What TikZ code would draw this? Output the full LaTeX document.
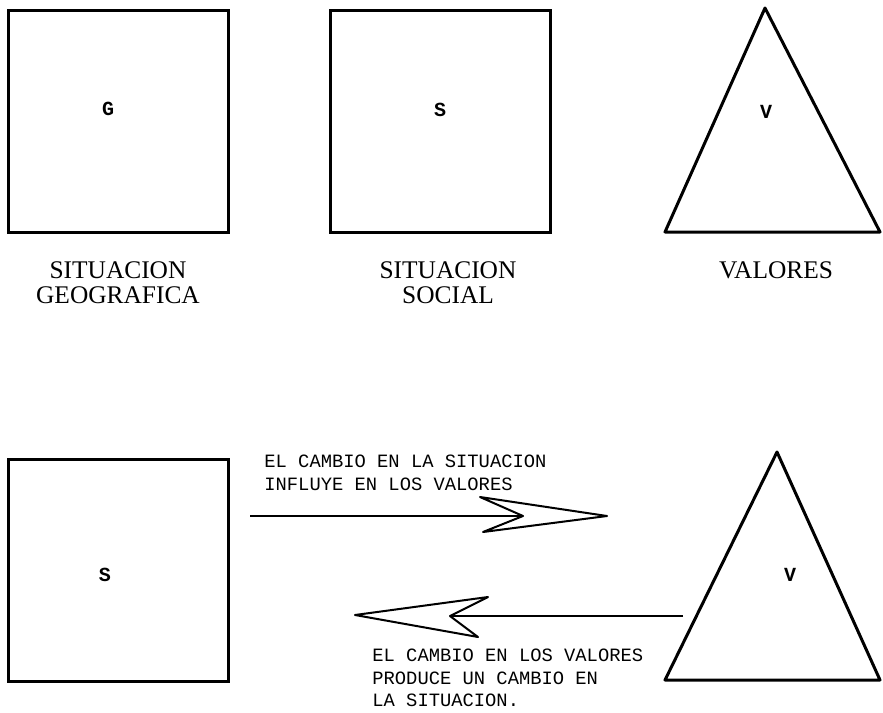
\documentclass[tikz,border=0pt]{standalone}
\usepackage{fontspec}
\setmainfont{Liberation Serif}
\setmonofont{Liberation Mono}
\tikzset{
  box/.style={draw,line width=1.5pt,minimum width=110pt,minimum height=111pt,inner sep=0pt},
  tri/.style={line width=1.5pt,line join=round},
  lbl/.style={font=\fontsize{12.7}{12.5}\selectfont,align=center,anchor=north,inner sep=0pt},
  note/.style={font=\ttfamily\fontsize{9.4}{11.2}\selectfont,align=left,anchor=north west,inner sep=0pt},
  letter/.style={font=\ttfamily\bfseries\fontsize{10}{10}\selectfont},
  dart/.style={line width=1pt,line join=round}
}
\begin{document}
\begin{tikzpicture}[x=0.5pt,y=-0.5pt]
	\useasboundingbox (0,0) rectangle (883,712);
	% upper row
	\node[box] (geo) at (118,121) {};
	\node[box] (soc) at (440,121) {};
	\coordinate (vtop) at (765,8); \coordinate (vleft) at (665,232); \coordinate (vright) at (880,232);
	\draw[tri] (vtop) -- (vleft) -- (vright) -- cycle;
	\node[letter] (g) at (108,109) {G};
	\node[letter] (s) at (440,110) {S};
	\node[letter] (v) at (766,112) {V};
	\node[lbl] (geolbl) at (118,261) {SITUACION\\GEOGRAFICA};
	\node[lbl] (soclbl) at (448,261) {SITUACION\\SOCIAL};
	\node[lbl] (vallbl) at (776,261) {VALORES};
	% lower row
	\node[box] (soc2) at (118,570) {};
	\coordinate (wtop) at (777,452); \coordinate (wleft) at (665,680); \coordinate (wright) at (880,680);
	\draw[tri] (wtop) -- (wleft) -- (wright) -- cycle;
	\node[letter] (s2) at (105,575) {S};
	\node[letter] (v2) at (790,575) {V};
	% arrow S -> V
	\coordinate (a1from) at (250,516); \coordinate (a1notch) at (523,516);
	\coordinate (a1tip) at (607,516); \coordinate (a1up) at (480,497); \coordinate (a1low) at (483,532);
	\draw[dart] (a1from) -- (a1notch);
	\draw[dart] (a1tip) -- (a1up) -- (a1notch) -- (a1low) -- cycle;
	\node[note] (n1) at (264,455) {EL CAMBIO EN LA SITUACION\\INFLUYE EN LOS VALORES};
	% arrow V -> S
	\coordinate (a2from) at (683,616); \coordinate (a2notch) at (450,616);
	\coordinate (a2tip) at (355,615); \coordinate (a2up) at (488,597); \coordinate (a2low) at (478,637);
	\draw[dart] (a2from) -- (a2notch);
	\draw[dart] (a2tip) -- (a2up) -- (a2notch) -- (a2low) -- cycle;
	\node[note] (n2) at (372,649) {EL CAMBIO EN LOS VALORES\\PRODUCE UN CAMBIO EN\\LA SITUACION.};
\end{tikzpicture}
\end{document}
